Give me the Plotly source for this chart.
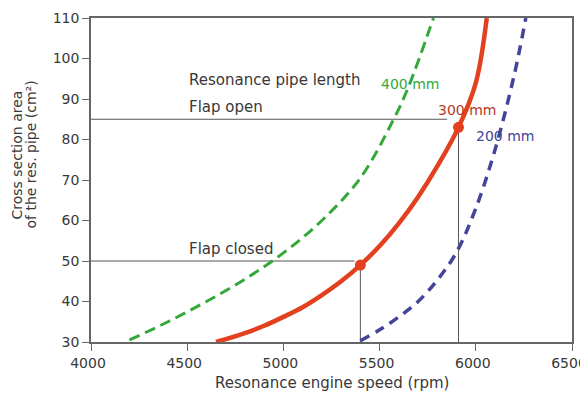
import plotly.graph_objects as go

# --- data ---
rpm_400 = [4200, 4400, 4600, 4800, 5000, 5200, 5400, 5573, 5650, 5780]
area_400 = [30.5, 35.0, 40.0, 45.5, 52.0, 60.0, 70.5, 85.0, 93.0, 110.0]

rpm_300 = [4650, 4800, 4900, 5000, 5100, 5200, 5300, 5400, 5500, 5600, 5700, 5800, 5910, 6000, 6057]
area_300 = [30.0, 32.2, 34.0, 36.2, 38.6, 41.6, 45.0, 49.0, 53.7, 59.3, 65.8, 73.4, 83.0, 94.0, 110.0]

rpm_200 = [5400, 5500, 5600, 5700, 5800, 5900, 6000, 6100, 6200, 6260]
area_200 = [30.3, 33.0, 36.2, 40.0, 45.3, 52.2, 63.0, 77.5, 96.0, 110.0]

flap_rpm = [5400, 5910]
flap_area = [49, 83]

flap_open_level = 85
flap_closed_level = 50

x_ticks = [4000, 4500, 5000, 5500, 6000, 6500]
y_ticks = [30, 40, 50, 60, 70, 80, 90, 100, 110]

GREEN = "#35a83a"
RED = "#e2401e"
BLUE = "#43449a"
REF = "#555555"
TXT = "#383838"
FAM = "DejaVu Sans, Verdana, sans-serif"

fig = go.Figure()

# reference lines
fig.add_trace(go.Scatter(x=[4000, 5851], y=[flap_open_level, flap_open_level], mode="lines",
                         line=dict(color=REF, width=1), hoverinfo="skip", showlegend=False))
fig.add_trace(go.Scatter(x=[4000, 5370], y=[flap_closed_level, flap_closed_level], mode="lines",
                         line=dict(color=REF, width=1), hoverinfo="skip", showlegend=False))
fig.add_trace(go.Scatter(x=[flap_rpm[0], flap_rpm[0]], y=[30, flap_area[0]], mode="lines",
                         line=dict(color=REF, width=1), hoverinfo="skip", showlegend=False))
fig.add_trace(go.Scatter(x=[flap_rpm[1], flap_rpm[1]], y=[30, flap_area[1]], mode="lines",
                         line=dict(color=REF, width=1), hoverinfo="skip", showlegend=False))

# curves
fig.add_trace(go.Scatter(x=rpm_400, y=area_400, mode="lines", line_shape="spline",
                         line=dict(color=GREEN, width=3, dash="11px,6px"), showlegend=False))
fig.add_trace(go.Scatter(x=rpm_200, y=area_200, mode="lines", line_shape="spline",
                         line=dict(color=BLUE, width=3.5, dash="10px,7px"), showlegend=False))
fig.add_trace(go.Scatter(x=rpm_300, y=area_300, mode="lines", line_shape="spline",
                         line=dict(color=RED, width=4.5), showlegend=False))
fig.add_trace(go.Scatter(x=flap_rpm, y=flap_area, mode="markers",
                         marker=dict(color=RED, size=11), showlegend=False))

font = dict(family=FAM, size=14, color=TXT)
font15 = dict(family=FAM, size=15, color=TXT)

anns = [
    dict(x=4500, y=94.6, text="Resonance pipe length", xanchor="left", font=font15),
    dict(x=4500, y=88.1, text="Flap open", xanchor="left", font=font15),
    dict(x=4500, y=53.0, text="Flap closed", xanchor="left", font=font15),
    dict(x=5656, y=93.6, text="400 mm", xanchor="center", font=dict(font, color=GREEN)),
    dict(x=5954, y=87.2, text="300 mm", xanchor="center", font=dict(font, color="#b5392a")),
    dict(x=6152, y=80.8, text="200 mm", xanchor="center", font=dict(font, color=BLUE)),
]
for a in anns:
    a.update(xref="x", yref="y", showarrow=False, yanchor="middle")
    fig.add_annotation(**a)

# y-axis title (two lines, tight spacing)
fig.add_annotation(x=-0.1528, y=0.577, xref="paper", yref="paper", showarrow=False,
                   text="Cross section area", textangle=-90, font=font,
                   xanchor="center", yanchor="middle")
fig.add_annotation(x=-0.1237, y=0.577, xref="paper", yref="paper", showarrow=False,
                   text="of the res. pipe (cm²)", textangle=-90, font=font,
                   xanchor="center", yanchor="middle")
# x-axis title
fig.add_annotation(x=0.502, y=-0.1265, xref="paper", yref="paper", showarrow=False,
                   text="Resonance engine speed (rpm)", font=font15,
                   xanchor="center", yanchor="middle")

axis_common = dict(showgrid=False, zeroline=False, showline=True, linecolor="#666666",
                   linewidth=1.5, mirror=True, ticks="outside", ticklen=7, tickcolor="#666666",
                   automargin=False,
                   tickfont=dict(family=FAM, size=14, color=TXT))

fig.update_layout(
    width=580, height=388,
    margin=dict(l=83, r=16, t=10, b=54),
    paper_bgcolor="white", plot_bgcolor="white",
    xaxis=dict(axis_common, range=[4000, 6500], tickvals=x_ticks,
               ticklabeloverflow="allow", ticklabelshift=-3),
    yaxis=dict(axis_common, range=[30, 110], tickvals=y_ticks, ticklabeloverflow="allow"),
)

fig.write_html("out.html")
